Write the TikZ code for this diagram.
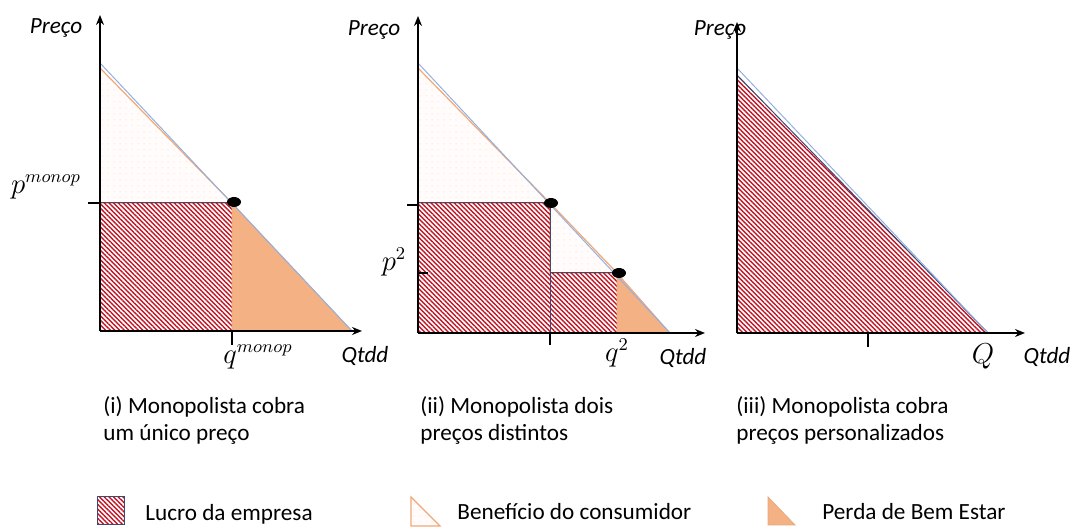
\documentclass[tikz,border=0pt]{standalone}
\usepackage{fontspec}
\setmainfont{Carlito}
\usetikzlibrary{arrows.meta,patterns.meta}

\definecolor{lucro}{RGB}{192,22,38}
\definecolor{borda}{RGB}{62,72,112}
\definecolor{perda}{RGB}{244,177,131}
\definecolor{benef}{RGB}{240,168,118}
\definecolor{demanda}{RGB}{150,176,222}

\tikzset{
  eixo/.style={line width=0.75pt,-{Stealth[length=5pt,width=4pt]}},
  risco/.style={line width=0.75pt},
  lucroarea/.style={pattern={Lines[angle=-45,distance=1.65pt,line width=0.7pt]},pattern color=lucro,draw=borda,line width=0.5pt},
  benefarea/.style={fill=white!97!benef,draw=benef,line width=0.6pt,
    postaction={pattern={Dots[distance=3pt,radius=0.25pt]},pattern color=benef!50}},
  perdaarea/.style={fill=perda,draw=perda!95!black,line width=0.4pt},
  demandalinha/.style={demanda,line width=0.5pt},
  ponto/.style={fill=black},
  rotulo/.style={inner sep=0pt,font=\fontsize{11.6pt}{13.5pt}\selectfont\itshape},
  matlabel/.style={inner sep=0pt,font=\fontsize{13.5pt}{15pt}\selectfont},
  legenda/.style={inner sep=0pt,anchor=north west,align=left,font=\fontsize{11.6pt}{13.6pt}\selectfont}
}

\begin{document}
\begin{tikzpicture}[x=0.5pt,y=-0.5pt]
  \useasboundingbox (0,0) rectangle (1073,528);

  % (i) um unico preco
  \coordinate (o1) at (100,331);
  \coordinate (ytop1) at (100,15);
  \coordinate (xend1) at (362,331);
  \coordinate (m1) at (232,203);
  \path[benefarea] (100,68) -- (m1) -- (100,203) -- cycle;
  \path[lucroarea] (100,203) rectangle (232,331);
  \path[perdaarea] (m1) -- (232,331) -- (352,331) -- cycle;
  \draw[demandalinha] (100,63) -- (352,331);
  \draw[eixo] (o1) -- (ytop1);
  \draw[eixo] (o1) -- (xend1);
  \draw[risco] (88,203) -- (100,203);
  \draw[risco] (232,331) -- (232,345);
  \fill[ponto] (234,202) ellipse [x radius=7, y radius=5];
  \node[rotulo] (preco1) at (56,28) {Preço};
  \node[rotulo] (qtdd1) at (365,356) {Qtdd};
  \node[matlabel] (pmon) at (46,187) {$p^{monop}$};
  \node[matlabel] (qmon) at (258,357) {$q^{monop}$};

  % (ii) dois precos
  \coordinate (o2) at (418,333);
  \coordinate (ytop2) at (418,16);
  \coordinate (xend2) at (705,333);
  \coordinate (m2a) at (550,203);
  \coordinate (m2b) at (617,273);
  \path[benefarea] (418,68) -- (m2a) -- (418,203) -- cycle;
  \path[benefarea] (m2a) -- (m2b) -- (550,273) -- cycle;
  \path[lucroarea] (418,203) rectangle (550,333);
  \path[lucroarea] (550,273) rectangle (617,333);
  \path[perdaarea] (m2b) -- (617,333) -- (670,333) -- cycle;
  \draw[demandalinha] (418,63) -- (670,333);
  \draw[eixo] (o2) -- (ytop2);
  \draw[eixo] (o2) -- (xend2);
  \draw[risco] (407,205) -- (418,205);
  \draw[risco] (417,273) -- (428,273);
  \draw[risco] (550,333) -- (550,345);
  \fill[ponto] (551,203) ellipse [x radius=7, y radius=5];
  \fill[ponto] (619,273) ellipse [x radius=7, y radius=5];
  \node[rotulo] (preco2) at (374,30) {Preço};
  \node[rotulo] (qtdd2) at (683,358) {Qtdd};
  \node[matlabel] (pdois) at (394,262) {$p^{2}$};
  \node[matlabel] (qdois) at (617,353) {$q^{2}$};

  % (iii) precos personalizados
  \coordinate (o3) at (737,333);
  \coordinate (ytop3) at (737,22);
  \coordinate (xend3) at (1025,333);
  \path[lucroarea] (737,75) -- (988,333) -- (737,333) -- cycle;
  \draw[demandalinha] (737,68) -- (988,333);
  \draw[eixo] (o3) -- (ytop3);
  \draw[eixo] (o3) -- (xend3);
  \draw[risco] (868,333) -- (868,347);
  \node[rotulo] (preco3) at (720,30) {Preço};
  \node[rotulo] (qtdd3) at (1047,357) {Qtdd};
  \node[matlabel] (qtot) at (983,356) {$Q$};

  % legendas dos paineis
  \node[legenda] (cap1) at (103,396) {(i) Monopolista cobra\\um único preço};
  \node[legenda] (cap2) at (420,396) {(ii) Monopolista dois\\preços distintos};
  \node[legenda] (cap3) at (736,396) {(iii) Monopolista cobra\\preços personalizados};

  % chave
  \path[lucroarea] (97,497) rectangle (124,525);
  \node[legenda,anchor=west] (keylucro) at (145,514) {Lucro da empresa};
  \path[benefarea] (411,497) -- (440,526) -- (411,526) -- cycle;
  \node[legenda,anchor=west] (keybenef) at (457,512) {Benefício do consumidor};
  \path[perdaarea] (768,497) -- (795,525) -- (768,525) -- cycle;
  \node[legenda,anchor=west] (keyperda) at (822,512) {Perda de Bem Estar};
\end{tikzpicture}
\end{document}
